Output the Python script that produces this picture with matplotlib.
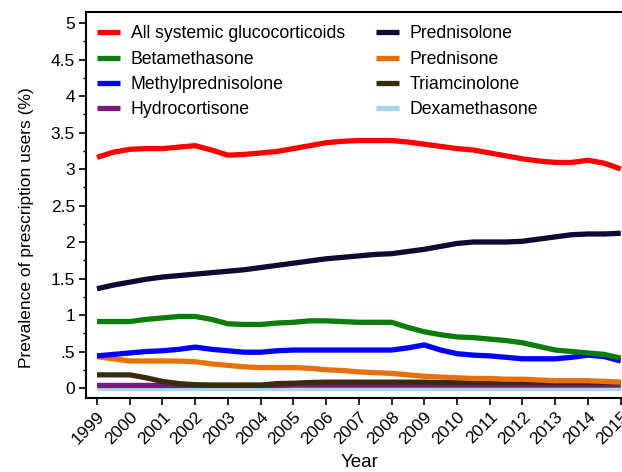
import matplotlib
matplotlib.use("Agg")
import matplotlib.pyplot as plt
from matplotlib.ticker import MultipleLocator

plt.rcParams['font.family'] = ['Liberation Sans', 'DejaVu Sans']

years = [1999 + 0.5 * i for i in range(33)]

all_gc = [3.16, 3.23, 3.27, 3.28, 3.28, 3.30, 3.32, 3.26, 3.19, 3.20, 3.22, 3.24,
          3.28, 3.32, 3.36, 3.38, 3.39, 3.39, 3.39, 3.37, 3.34, 3.31, 3.28, 3.26,
          3.22, 3.18, 3.14, 3.11, 3.09, 3.09, 3.12, 3.08, 3.00]
prednisolone = [1.36, 1.41, 1.45, 1.49, 1.52, 1.54, 1.56, 1.58, 1.60, 1.62, 1.65, 1.68,
                1.71, 1.74, 1.77, 1.79, 1.81, 1.83, 1.84, 1.87, 1.90, 1.94, 1.98, 2.00,
                2.00, 2.00, 2.01, 2.04, 2.07, 2.10, 2.11, 2.11, 2.12]
betamethasone = [0.91, 0.91, 0.91, 0.94, 0.96, 0.98, 0.98, 0.94, 0.88, 0.87, 0.87, 0.89,
                 0.90, 0.92, 0.92, 0.91, 0.90, 0.90, 0.90, 0.83, 0.77, 0.73, 0.70, 0.69,
                 0.67, 0.65, 0.62, 0.57, 0.52, 0.50, 0.48, 0.46, 0.41]
methylpred = [0.44, 0.46, 0.48, 0.50, 0.51, 0.53, 0.56, 0.53, 0.51, 0.49, 0.49, 0.51,
              0.52, 0.52, 0.52, 0.52, 0.52, 0.52, 0.52, 0.55, 0.59, 0.52, 0.47, 0.45,
              0.44, 0.42, 0.40, 0.40, 0.40, 0.42, 0.45, 0.43, 0.37]
prednisone = [0.43, 0.40, 0.37, 0.37, 0.37, 0.37, 0.36, 0.33, 0.31, 0.29, 0.28, 0.28,
              0.28, 0.27, 0.25, 0.24, 0.22, 0.21, 0.20, 0.18, 0.16, 0.15, 0.14, 0.13,
              0.13, 0.12, 0.12, 0.11, 0.10, 0.10, 0.10, 0.09, 0.08]
triamcinolone = [0.18, 0.18, 0.18, 0.14, 0.09, 0.06, 0.045, 0.04, 0.04, 0.04, 0.04, 0.06,
                 0.065, 0.075, 0.08, 0.08, 0.08, 0.08, 0.08, 0.08, 0.08, 0.075, 0.075, 0.075,
                 0.075, 0.075, 0.075, 0.075, 0.075, 0.075, 0.075, 0.075, 0.075]
hydrocortisone = [0.035] * 12 + [0.04] * 21
dexamethasone = [0.005] * 33

series = [
    ("All systemic glucocorticoids", all_gc, "#ff0000"),
    ("Betamethasone", betamethasone, "#0a7d0a"),
    ("Methylprednisolone", methylpred, "#0000ff"),
    ("Hydrocortisone", hydrocortisone, "#7a1a7a"),
    ("Prednisolone", prednisolone, "#0b0b33"),
    ("Prednisone", prednisone, "#e8700a"),
    ("Triamcinolone", triamcinolone, "#3a2a0e"),
    ("Dexamethasone", dexamethasone, "#a8d8e6"),
]
draw_order = [7, 3, 6, 5, 2, 1, 4, 0]

year_ticks = list(range(1999, 2016))
y_ticks = [0, 0.5, 1, 1.5, 2, 2.5, 3, 3.5, 4, 4.5, 5]
y_tick_labels = ["0", ".5", "1", "1.5", "2", "2.5", "3", "3.5", "4", "4.5", "5"]

fig = plt.figure(figsize=(6.22, 4.72), dpi=100)
ax = fig.add_axes([86 / 622, 74 / 472, 536 / 622, 386 / 472])

handles = {}
for i in draw_order:
    name, vals, col = series[i]
    h, = ax.plot(years, vals, color=col, lw=3.8, solid_capstyle='butt', label=name)
    handles[i] = h

ax.set_xlim(1998.664, 2015.04)
ax.set_ylim(-0.137, 5.151)
ax.set_xticks(year_ticks)
ax.set_xticklabels([str(y) for y in year_ticks], rotation=45, ha='right',
                   rotation_mode='anchor', fontsize=12.5)
ax.set_yticks(y_ticks)
ax.set_yticklabels(y_tick_labels, fontsize=12.5)
ax.yaxis.set_minor_locator(MultipleLocator(0.25))
ax.tick_params(axis='both', which='major', length=5, width=1.2, direction='out', pad=3)
ax.tick_params(axis='y', which='minor', length=2.5, width=1.0, direction='out')
for s in ['left', 'top', 'bottom']:
    ax.spines[s].set_linewidth(1.5)
ax.spines['right'].set_visible(False)

ax.set_xlabel("Year", fontsize=13.5, va='bottom')
ax.xaxis.set_label_coords((360 - 86) / 536, -(471 - 398) / 386)
ax.set_ylabel("Prevalence of prescription users (%)", fontsize=12.5)
ax.yaxis.set_label_coords(-(86 - 34) / 536, (398 - 228) / 386)

leg = ax.legend([handles[i] for i in range(8)], [series[i][0] for i in range(8)],
                ncol=2, frameon=False, loc='upper left',
                bbox_to_anchor=((97 - 86) / 536, 1 - 13.5 / 386),
                fontsize=12.7, handlelength=1.3, handletextpad=0.62,
                columnspacing=1.75, labelspacing=0.47, borderaxespad=0, borderpad=0)

fig.savefig("out.png", dpi=100)
